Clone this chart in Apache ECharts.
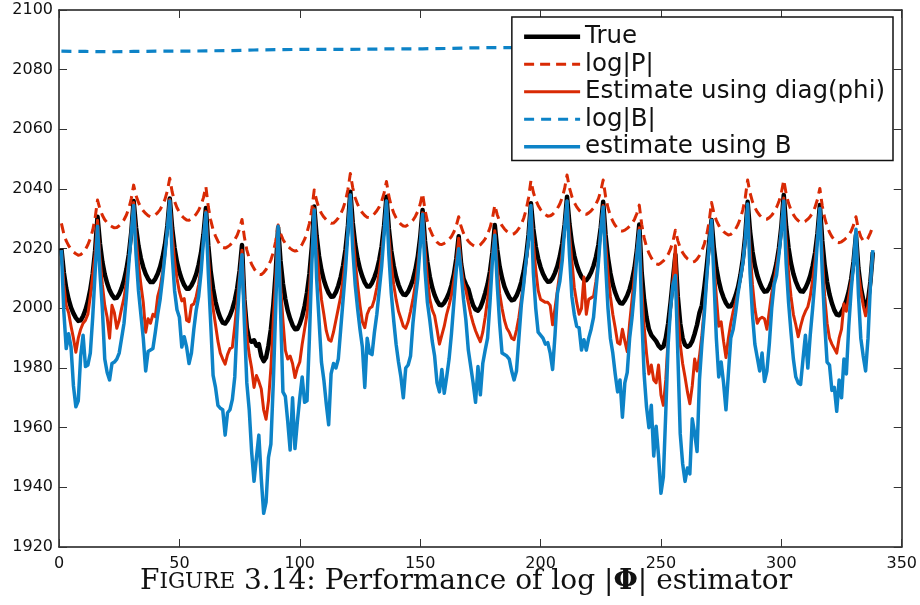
<!DOCTYPE html>
<html>
<head>
<meta charset="utf-8">
<script src="https://cdn.jsdelivr.net/npm/echarts@6.0.0/dist/echarts.min.js"></script>
<style>
  html, body { margin: 0; padding: 0; background: #fff; }
  #chart { width: 920px; height: 605px; }
</style>
</head>
<body>
<div id="chart"></div>
<script>
// Log-determinant traces, one value per time step (t = 1 .. 338),
// one row per 15-step cycle.
const trueLogDet = [
  2020.0, 2012.1, 2006.7, 2003.0, 2000.2, 1998.3, 1996.8, 1995.8, 1996.0, 1997.4, 1999.5, 2002.4, 2006.3, 2011.6, 2019.4,
  2030.7, 2021.8, 2015.6, 2011.4, 2008.4, 2006.1, 2004.5, 2003.4, 2003.5, 2004.8, 2006.8, 2009.4, 2013.1, 2018.1, 2025.4,
  2036.0, 2027.1, 2021.0, 2016.8, 2013.8, 2011.5, 2009.9, 2008.8, 2008.8, 2009.9, 2011.6, 2013.9, 2017.1, 2021.4, 2027.6,
  2036.8, 2026.9, 2020.2, 2015.5, 2012.2, 2009.7, 2007.8, 2006.6, 2006.6, 2007.7, 2009.3, 2011.5, 2014.6, 2018.7, 2024.8,
  2033.6, 2021.1, 2012.4, 2006.6, 2002.2, 1999.1, 1996.8, 1995.2, 1994.9, 1996.0, 1997.6, 1999.8, 2002.7, 2006.7, 2012.6,
  2021.2, 2003.0, 1993.5, 1989.5, 1988.8, 1989.3, 1987.5, 1988.0, 1984.0, 1982.3, 1983.5, 1987.5, 1993.0, 2001.0, 2012.0,
  2027.0, 2015.9, 2008.3, 2003.1, 1999.2, 1996.5, 1994.4, 1993.0, 1993.1, 1994.8, 1997.3, 2000.7, 2005.3, 2011.5, 2020.7,
  2034.1, 2024.2, 2017.5, 2012.8, 2009.5, 2007.0, 2005.1, 2003.9, 2004.0, 2005.4, 2007.6, 2010.5, 2014.4, 2019.8, 2027.6,
  2039.1, 2028.7, 2021.6, 2016.7, 2013.2, 2010.6, 2008.6, 2007.3, 2007.3, 2008.5, 2010.4, 2012.8, 2016.2, 2020.8, 2027.6,
  2037.4, 2026.7, 2019.3, 2014.3, 2010.6, 2007.9, 2005.9, 2004.6, 2004.5, 2005.6, 2007.4, 2009.7, 2012.9, 2017.3, 2023.7,
  2033.0, 2022.6, 2015.5, 2010.6, 2007.0, 2004.4, 2002.5, 2001.2, 2001.0, 2001.9, 2003.3, 2005.2, 2007.8, 2011.4, 2016.6,
  2024.2, 2015.0, 2010.0, 2008.0, 2006.5, 2003.5, 2001.0, 1999.6, 1999.2, 2000.3, 2002.4, 2005.1, 2008.1, 2012.4, 2018.7,
  2027.9, 2019.7, 2014.0, 2010.2, 2007.3, 2005.3, 2003.7, 2002.7, 2002.9, 2004.2, 2006.2, 2008.8, 2012.4, 2017.4, 2024.6,
  2035.2, 2026.6, 2020.7, 2016.7, 2013.8, 2011.6, 2010.0, 2008.9, 2009.0, 2010.1, 2011.9, 2014.2, 2017.4, 2021.7, 2028.1,
  2037.4, 2028.3, 2022.0, 2017.7, 2014.6, 2012.3, 2010.6, 2009.5, 2009.4, 2010.5, 2012.1, 2014.3, 2017.2, 2021.2, 2027.1,
  2035.7, 2024.6, 2017.0, 2011.8, 2008.0, 2005.3, 2003.2, 2001.8, 2001.6, 2002.7, 2004.3, 2006.5, 2009.5, 2013.5, 2019.5,
  2028.1, 2012.0, 2003.0, 1997.0, 1993.0, 1991.0, 1990.0, 1989.0, 1987.5, 1986.6, 1987.2, 1990.0, 1995.0, 2002.0, 2010.0,
  2018.0, 2004.0, 1995.0, 1990.0, 1987.8, 1987.1, 1987.6, 1989.0, 1991.5, 1994.5, 1998.5, 2001.0, 2007.0, 2014.0, 2022.0,
  2029.6, 2020.1, 2013.6, 2009.2, 2005.9, 2003.6, 2001.8, 2000.6, 2000.7, 2002.1, 2004.3, 2007.1, 2011.1, 2016.4, 2024.3,
  2035.7, 2025.9, 2019.1, 2014.5, 2011.1, 2008.7, 2006.8, 2005.6, 2005.7, 2007.0, 2009.0, 2011.6, 2015.2, 2020.2, 2027.4,
  2038.0, 2027.4, 2020.2, 2015.2, 2011.6, 2009.0, 2007.0, 2005.7, 2005.6, 2006.8, 2008.6, 2010.9, 2014.2, 2018.6, 2025.1,
  2034.6, 2022.6, 2014.4, 2008.8, 2004.7, 2001.7, 1999.4, 1997.9, 1997.7, 1998.8, 2000.5, 2002.7, 2005.7, 2009.8, 2015.8,
  2024.6, 2013.5, 2007.0, 2003.0, 2000.5, 2002.5, 2009.0, 2018.8
];

const logDetP = [
  2028.5, 2025.0, 2022.6, 2021.0, 2019.8, 2018.9, 2018.3, 2017.8, 2018.0, 2018.7, 2019.8, 2021.3, 2023.4, 2026.2, 2030.3,
  2036.3, 2033.3, 2031.2, 2029.7, 2028.7, 2027.9, 2027.4, 2027.0, 2027.1, 2027.7, 2028.5, 2029.7, 2031.3, 2033.5, 2036.7,
  2041.3, 2037.8, 2035.5, 2033.8, 2032.7, 2031.8, 2031.1, 2030.7, 2030.8, 2031.3, 2032.1, 2033.1, 2034.6, 2036.5, 2039.4,
  2043.6, 2039.0, 2035.9, 2033.7, 2032.2, 2031.0, 2030.2, 2029.6, 2029.5, 2030.0, 2030.7, 2031.6, 2032.9, 2034.6, 2037.1,
  2040.8, 2034.1, 2029.6, 2026.4, 2024.2, 2022.5, 2021.2, 2020.4, 2020.2, 2020.6, 2021.2, 2022.0, 2023.0, 2024.5, 2026.7,
  2029.8, 2023.8, 2019.6, 2016.8, 2014.8, 2013.3, 2012.1, 2011.4, 2011.3, 2012.0, 2013.0, 2014.4, 2016.2, 2018.8, 2022.5,
  2027.9, 2025.1, 2023.1, 2021.8, 2020.8, 2020.1, 2019.5, 2019.2, 2019.4, 2020.2, 2021.5, 2023.1, 2025.4, 2028.5, 2033.1,
  2039.7, 2036.1, 2033.5, 2031.8, 2030.6, 2029.7, 2029.0, 2028.5, 2028.6, 2029.3, 2030.3, 2031.7, 2033.5, 2036.1, 2039.8,
  2045.2, 2040.4, 2037.1, 2034.9, 2033.2, 2032.0, 2031.1, 2030.5, 2030.4, 2030.9, 2031.7, 2032.7, 2034.0, 2035.9, 2038.6,
  2042.5, 2037.6, 2034.3, 2032.0, 2030.3, 2029.1, 2028.2, 2027.6, 2027.5, 2028.0, 2028.6, 2029.5, 2030.8, 2032.5, 2034.9,
  2038.5, 2033.0, 2029.2, 2026.6, 2024.7, 2023.3, 2022.2, 2021.5, 2021.4, 2021.8, 2022.3, 2023.1, 2024.1, 2025.6, 2027.7,
  2030.7, 2027.4, 2025.2, 2023.7, 2022.5, 2021.7, 2021.1, 2020.7, 2020.8, 2021.3, 2022.2, 2023.3, 2024.9, 2027.0, 2030.1,
  2034.6, 2031.4, 2029.2, 2027.7, 2026.6, 2025.8, 2025.2, 2024.8, 2025.0, 2025.7, 2026.8, 2028.2, 2030.2, 2033.0, 2037.0,
  2042.8, 2038.9, 2036.3, 2034.5, 2033.1, 2032.2, 2031.4, 2030.9, 2031.0, 2031.5, 2032.4, 2033.5, 2035.0, 2037.1, 2040.2,
  2044.7, 2040.4, 2037.5, 2035.5, 2034.0, 2032.9, 2032.1, 2031.6, 2031.5, 2032.0, 2032.7, 2033.6, 2034.9, 2036.7, 2039.3,
  2043.0, 2037.5, 2033.7, 2031.1, 2029.2, 2027.8, 2026.7, 2026.0, 2025.9, 2026.2, 2026.8, 2027.5, 2028.5, 2029.8, 2031.8,
  2034.6, 2028.2, 2023.7, 2020.7, 2018.5, 2016.9, 2015.7, 2014.9, 2014.7, 2015.2, 2015.9, 2016.8, 2018.1, 2019.9, 2022.5,
  2026.2, 2022.7, 2020.3, 2018.7, 2017.5, 2016.6, 2016.0, 2015.5, 2015.7, 2016.5, 2017.7, 2019.3, 2021.6, 2024.6, 2029.0,
  2035.5, 2031.9, 2029.5, 2027.8, 2026.6, 2025.7, 2025.1, 2024.6, 2024.8, 2025.5, 2026.6, 2028.1, 2030.2, 2033.0, 2037.0,
  2043.0, 2038.7, 2035.8, 2033.8, 2032.3, 2031.2, 2030.4, 2029.9, 2029.9, 2030.4, 2031.2, 2032.3, 2033.8, 2035.8, 2038.7,
  2043.0, 2038.4, 2035.2, 2033.0, 2031.4, 2030.2, 2029.4, 2028.8, 2028.7, 2029.2, 2029.9, 2030.8, 2032.1, 2033.9, 2036.5,
  2040.2, 2034.3, 2030.3, 2027.5, 2025.5, 2024.0, 2022.9, 2022.2, 2022.0, 2022.3, 2022.9, 2023.6, 2024.6, 2025.9, 2027.9,
  2030.7, 2026.5, 2024.0, 2022.7, 2022.5, 2023.5, 2025.3, 2027.4
];

const estDiagPhi = [
  2019.5, 2008.0, 2001.0, 1998.5, 1994.0, 1990.0, 1985.3, 1990.0, 1993.0, 1995.0, 1996.0, 1998.0, 2004.0, 2011.0, 2018.0,
  2029.5, 2017.0, 2008.0, 2001.0, 1997.0, 1990.0, 2001.0, 1998.5, 1993.3, 1996.0, 2000.0, 2003.5, 2009.0, 2016.0, 2025.0,
  2035.5, 2024.0, 2015.0, 2008.0, 2002.0, 1992.0, 1996.5, 1995.0, 1998.0, 1997.2, 2004.0, 2007.0, 2012.0, 2018.0, 2027.0,
  2036.5, 2025.0, 2016.0, 2010.0, 2005.5, 2002.5, 2003.3, 1996.0, 1995.5, 2001.0, 2001.5, 2004.0, 2008.0, 2014.0, 2023.0,
  2032.5, 2018.0, 2006.0, 2000.0, 1994.5, 1989.0, 1985.0, 1983.0, 1981.3, 1984.5, 1986.5, 1987.0, 1994.0, 2002.0, 2011.0,
  2019.5, 2003.0, 1991.0, 1984.5, 1980.0, 1973.5, 1977.5, 1975.5, 1973.0, 1966.0, 1962.8, 1969.0, 1980.0, 1996.0, 2010.0,
  2026.0, 2008.0, 1996.0, 1986.0, 1983.0, 1984.0, 1981.5, 1976.8, 1980.0, 1982.0, 1988.0, 1993.0, 1998.0, 2006.0, 2018.0,
  2033.5, 2020.0, 2011.0, 2003.0, 1998.0, 1992.5, 1989.5, 1989.0, 1992.0, 1996.0, 2000.0, 2004.0, 2010.0, 2017.0, 2026.5,
  2038.0, 2026.0, 2016.0, 2008.0, 2001.0, 1995.5, 1993.5, 1998.0, 2000.0, 2000.5, 2003.0, 2007.0, 2012.0, 2018.0, 2026.0,
  2036.0, 2024.0, 2015.0, 2008.0, 2003.0, 1999.0, 1996.6, 1994.0, 1993.3, 1995.5, 1999.0, 2003.0, 2008.0, 2014.5, 2022.0,
  2032.0, 2020.0, 2010.0, 2003.0, 1999.5, 1997.5, 1993.0, 1988.0, 1991.0, 1994.0, 1998.0, 2001.0, 2004.5, 2009.5, 2015.0,
  2023.5, 2014.0, 2008.5, 2006.0, 2002.0, 1998.0, 1995.0, 1992.5, 1990.5, 1988.8, 1992.0, 1997.0, 2003.0, 2009.5, 2017.5,
  2026.0, 2014.0, 2005.0, 2000.0, 1996.0, 1993.3, 1992.0, 1990.0, 1989.5, 1992.7, 1997.0, 2003.0, 2008.5, 2015.5, 2023.5,
  2034.0, 2022.0, 2013.0, 2006.0, 2003.0, 2002.5, 2002.0, 2002.0, 2001.0, 1994.5, 2000.0, 2006.0, 2012.0, 2019.0, 2027.5,
  2036.0, 2025.0, 2016.0, 2007.0, 2002.0, 1998.0, 2000.0, 2010.5, 1998.0, 2003.0, 2003.5, 2004.0, 2009.0, 2016.0, 2026.5,
  2034.5, 2022.0, 2012.0, 2004.0, 1998.0, 1993.5, 1988.5, 1988.0, 1993.0, 1989.0, 1985.5, 1995.0, 2003.0, 2011.0, 2019.0,
  2027.0, 2007.0, 1994.0, 1985.0, 1978.0, 1981.0, 1976.0, 1975.0, 1981.0, 1971.0, 1967.5, 1976.0, 1990.0, 2000.0, 2009.0,
  2021.0, 1998.0, 1988.0, 1981.5, 1977.0, 1972.0, 1968.0, 1974.0, 1983.0, 1979.0, 1984.0, 1991.0, 2000.0, 2010.0, 2021.0,
  2028.5, 2015.0, 2004.0, 1994.0, 1995.5, 1989.0, 1983.5, 1990.0, 1995.0, 1999.0, 2002.0, 2005.5, 2010.0, 2015.5, 2023.5,
  2034.5, 2020.0, 2008.0, 2000.0, 1995.0, 1996.5, 1997.0, 1996.5, 1993.0, 1999.0, 2005.0, 2009.0, 2014.0, 2019.5, 2026.5,
  2037.0, 2023.0, 2012.0, 2004.0, 1998.0, 1994.5, 1990.5, 1994.0, 1997.0, 1999.0, 2000.5, 2004.0, 2009.5, 2016.0, 2024.0,
  2033.5, 2018.0, 2004.0, 1995.0, 1990.0, 1988.0, 1986.5, 1985.0, 1990.0, 1993.0, 2001.5, 1999.0, 2004.0, 2009.0, 2015.0,
  2023.5, 2012.0, 2006.0, 2001.0, 1997.5, 2001.0, 2008.5, 2018.5
];

// log|B| is nearly flat; sampled every ten steps.
const logDetBSteps = [1, 11, 21, 31, 41, 51, 61, 71, 81, 91, 101, 111, 121, 131, 141, 151, 161, 171, 181,
  191, 201, 211, 221, 231, 241, 251, 261, 271, 281, 291, 301, 311, 321, 331, 338];
const logDetB = [2086.2, 2086.1, 2086.0, 2086.1, 2086.2, 2086.2, 2086.3, 2086.4, 2086.6, 2086.7, 2086.8,
  2086.8, 2086.8, 2086.9, 2087.0, 2087.0, 2087.1, 2087.3, 2087.4, 2087.4, 2087.5, 2087.5, 2087.5, 2087.6,
  2087.6, 2087.6, 2087.6, 2087.7, 2087.7, 2087.7, 2087.7, 2087.8, 2087.8, 2087.8, 2087.8];

const estUsingB = [
  2019.5, 1999.0, 1986.5, 1991.5, 1987.0, 1974.0, 1967.0, 1969.0, 1984.0, 1991.0, 1980.5, 1981.0, 1985.0, 1997.0, 2012.0,
  2027.5, 2012.0, 2000.0, 1983.0, 1978.5, 1976.0, 1981.5, 1982.0, 1983.0, 1985.0, 1990.0, 1995.0, 2004.0, 2015.0, 2025.0,
  2034.5, 2018.0, 2006.0, 1998.0, 1990.0, 1979.0, 1985.5, 1986.0, 1986.5, 1992.0, 1998.0, 2003.0, 2010.0, 2018.0, 2026.5,
  2036.0, 2018.0, 2006.0, 1999.5, 1997.0, 1987.0, 1990.5, 1987.0, 1981.5, 1985.0, 1993.0, 1999.5, 2004.0, 2012.0, 2023.0,
  2032.0, 2012.0, 1995.0, 1977.5, 1973.5, 1967.5, 1966.5, 1966.0, 1957.5, 1965.0, 1966.0, 1969.5, 1977.0, 1995.0, 2009.0,
  2018.0, 1995.0, 1975.0, 1966.0, 1952.0, 1942.0, 1950.0, 1957.5, 1943.0, 1931.3, 1935.0, 1950.0, 1954.5, 1975.0, 2000.0,
  2027.5, 2000.0, 1972.0, 1970.5, 1962.0, 1952.5, 1970.0, 1953.0, 1962.0, 1970.0, 1977.0, 1968.5, 1969.0, 1990.0, 2015.0,
  2033.0, 2010.0, 1996.0, 1982.0, 1976.0, 1968.0, 1961.0, 1978.0, 1981.5, 1980.0, 1983.0, 1993.0, 2003.0, 2013.0, 2026.0,
  2038.0, 2020.0, 2008.0, 2000.0, 1993.0, 1987.0, 1973.5, 1990.0, 1985.0, 1984.5, 1992.0, 1998.0, 2006.0, 2014.0, 2025.0,
  2036.0, 2018.0, 2005.0, 1996.0, 1988.0, 1982.0, 1977.0, 1970.0, 1980.0, 1981.0, 1984.0, 1995.0, 2003.0, 2010.0, 2021.0,
  2031.5, 2013.0, 2002.0, 1996.0, 1989.0, 1984.0, 1975.0, 1972.0, 1979.5, 1971.5, 1977.0, 1983.0, 1991.5, 2002.0, 2013.0,
  2020.0, 2012.0, 2003.0, 1996.0, 1986.0, 1980.5, 1975.0, 1968.5, 1980.5, 1971.0, 1981.5, 1986.0, 1990.0, 2002.0, 2016.0,
  2024.5, 2008.0, 1995.0, 1985.0, 1984.5, 1984.0, 1983.0, 1979.0, 1976.0, 1979.0, 1990.0, 2001.0, 2008.0, 2016.0, 2023.0,
  2034.5, 2012.0, 2000.0, 1992.0, 1991.0, 1990.0, 1988.0, 1988.5, 1985.0, 1979.5, 1991.0, 2005.0, 2009.0, 2016.0, 2027.0,
  2036.0, 2018.0, 2004.0, 1998.0, 1994.0, 1993.5, 1986.0, 1989.5, 1986.0, 1990.0, 1993.0, 1997.0, 2006.0, 2015.0, 2026.0,
  2034.0, 2015.0, 2000.0, 1990.0, 1985.0, 1978.0, 1972.0, 1976.0, 1963.5, 1975.0, 1978.5, 1990.0, 1997.0, 2006.0, 2018.0,
  2026.0, 1998.0, 1978.0, 1967.0, 1960.0, 1967.5, 1950.5, 1960.5, 1950.5, 1938.0, 1943.5, 1965.0, 1988.0, 2000.0, 2008.0,
  2011.0, 1985.0, 1958.0, 1948.0, 1942.0, 1946.5, 1944.5, 1963.0, 1958.0, 1952.0, 1976.0, 1988.0, 1998.0, 2010.0, 2021.0,
  2029.5, 2010.0, 1990.0, 1977.0, 1982.0, 1975.0, 1966.0, 1978.0, 1990.0, 1993.0, 1998.5, 2005.0, 2010.0, 2015.0, 2023.0,
  2035.0, 2012.0, 1998.0, 1988.0, 1983.5, 1979.0, 1985.0, 1975.5, 1979.0, 1988.0, 2000.0, 2008.0, 2011.0, 2018.0, 2026.0,
  2036.0, 2015.0, 2002.0, 1992.0, 1983.0, 1977.0, 1975.0, 1974.5, 1983.0, 1991.0, 1980.0, 1991.0, 2000.0, 2010.0, 2023.0,
  2033.5, 2012.0, 1995.0, 1982.0, 1981.0, 1972.5, 1973.5, 1965.5, 1976.0, 1970.0, 1983.0, 1978.0, 1994.0, 2006.0, 2015.0,
  2026.5, 2005.0, 1990.0, 1984.0, 1979.0, 1990.0, 2008.0, 2019.5
];

const seriesNames = ['True', 'log|P|', 'Estimate using diag(phi)', 'log|B|', 'estimate using B'];
const RED = '#d92a04';
const BLUE = '#0d83c7';

// pair each value with its time step (first step is t = 1)
const byStep = vals => vals.map((v, i) => [i + 1, v]);

const axisLineStyle = { color: '#1a1a1a', width: 1.5 };
const tickStyle = { show: true, inside: true, length: 8, lineStyle: { color: '#333', width: 1 } };
const labelFont = { fontFamily: 'DejaVu Sans', fontSize: 16, color: '#111', formatter: v => String(v) };

const chart = echarts.init(document.getElementById('chart'), null, { renderer: 'canvas' });

const lineSeries = (name, data, color, width, dash) => ({
  name, type: 'line', data,
  xAxisIndex: 0, yAxisIndex: 0,
  symbol: 'none', showSymbol: false, smooth: false,
  lineStyle: { color, width, type: dash || 'solid', join: 'round', cap: 'butt' },
  itemStyle: { color },
  emphasis: { disabled: true },
  animation: false
});

chart.setOption({
  animation: false,
  backgroundColor: '#fff',
  grid: { left: 59, right: 18, top: 10, bottom: 58 },
  xAxis: [
    {
      type: 'value', position: 'bottom', min: 0, max: 350, interval: 50,
      axisLine: { show: true, onZero: false, lineStyle: axisLineStyle },
      axisTick: tickStyle,
      axisLabel: Object.assign({ margin: 9 }, labelFont),
      splitLine: { show: false }
    },
    {
      type: 'value', position: 'top', min: 0, max: 350, interval: 50,
      axisLine: { show: true, onZero: false, lineStyle: axisLineStyle },
      axisTick: tickStyle,
      axisLabel: { show: false },
      splitLine: { show: false }
    }
  ],
  yAxis: [
    {
      type: 'value', position: 'left', min: 1920, max: 2100, interval: 20,
      axisLine: { show: true, onZero: false, lineStyle: axisLineStyle },
      axisTick: tickStyle,
      axisLabel: Object.assign({ margin: 6 }, labelFont),
      splitLine: { show: false }
    },
    {
      type: 'value', position: 'right', min: 1920, max: 2100, interval: 20,
      axisLine: { show: true, onZero: false, lineStyle: axisLineStyle },
      axisTick: tickStyle,
      axisLabel: { show: false },
      splitLine: { show: false }
    }
  ],
  legend: {
    data: seriesNames,
    orient: 'vertical',
    right: 27, top: 17,
    backgroundColor: '#fff',
    borderColor: '#111', borderWidth: 1.5, borderRadius: 0,
    padding: [6, 8, 0, 10],
    itemGap: 0, itemWidth: 56, itemHeight: 14,
    selectedMode: false,
    itemStyle: { opacity: 0, borderWidth: 0 },
    lineStyle: { width: 'inherit' },
    textStyle: { fontFamily: 'DejaVu Sans', fontSize: 24.5, color: '#111', lineHeight: 27.5 }
  },
  graphic: [
    {
      type: 'text', x: 466, y: 582, silent: true,
      style: {
        text: '{big|F}{sc|IGURE} 3.14: Performance of log |{phi|Φ}| estimator',
        align: 'center', verticalAlign: 'middle',
        fill: '#111',
        font: '28px "DejaVu Serif"',
        rich: {
          big: { fontFamily: 'DejaVu Serif', fontSize: 28, fill: '#111' },
          sc: { fontFamily: 'DejaVu Serif', fontSize: 21.5, fill: '#111' },
          phi: { fontFamily: 'DejaVu Serif', fontSize: 28, fontWeight: 'bold', fill: '#111' }
        }
      }
    }
  ],
  series: [
    lineSeries(seriesNames[0], byStep(trueLogDet), '#000', 4.5),
    lineSeries(seriesNames[1], byStep(logDetP), RED, 3, [10, 6]),
    lineSeries(seriesNames[2], byStep(estDiagPhi), RED, 3),
    lineSeries(seriesNames[3], logDetBSteps.map((t, i) => [t, logDetB[i]]), BLUE, 3.2, [10, 7]),
    lineSeries(seriesNames[4], byStep(estUsingB), BLUE, 3.5)
  ]
});
</script>
</body>
</html>
